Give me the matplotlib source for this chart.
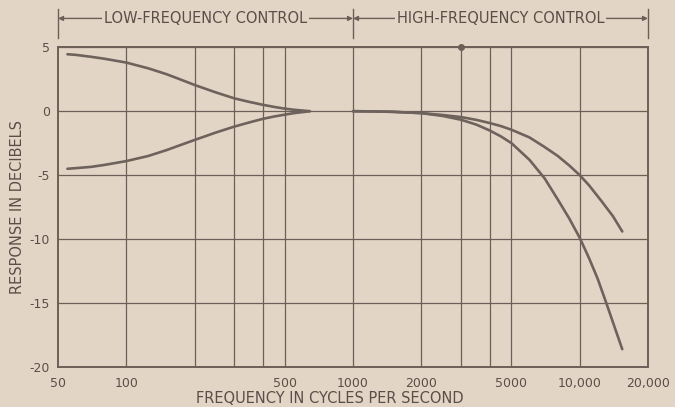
"""
Tone-control response curves (bass / treble boost and cut), redrawn from a
scanned magazine figure.
"""
import matplotlib
matplotlib.use("Agg")
import matplotlib.pyplot as plt

BG = "#e3d5c6"
INK = "#6b5f58"
CURVE = "#6e625c"
TEXT = "#5a4e48"

# ---- data ----------------------------------------------------------------
lf_freq = [55, 60, 70, 80, 100, 125, 150, 175, 200, 250, 300, 350, 400, 450,
           500, 550, 600, 645]
lf_boost = [4.45, 4.4, 4.25, 4.1, 3.8, 3.35, 2.9, 2.45, 2.05, 1.45, 1.0,
            0.72, 0.5, 0.33, 0.2, 0.11, 0.05, 0.0]
lf_cut = [-4.5, -4.45, -4.35, -4.2, -3.9, -3.5, -3.05, -2.62, -2.25, -1.65,
          -1.2, -0.87, -0.6, -0.41, -0.27, -0.15, -0.07, 0.0]

hf_freq = [1000, 1250, 1500, 2000, 2500, 3000, 3500, 4000, 4500, 5000, 6000,
           7000, 8000, 9000, 10000, 11000, 12500, 14000, 15400]
hf_upper = [0.0, -0.02, -0.05, -0.15, -0.3, -0.46, -0.68, -0.92, -1.17, -1.45,
            -2.05, -2.8, -3.5, -4.25, -5.0, -5.8, -7.05, -8.2, -9.4]
hf_lower_freq = [1000, 1250, 1500, 2000, 2500, 3000, 3500, 4000, 4500, 5000,
                 6000, 7000, 8000, 9000, 10000, 11000, 12000, 13100, 14200, 15400]
hf_lower = [0.0, -0.02, -0.05, -0.15, -0.38, -0.67, -1.05, -1.5, -1.98, -2.5,
            -3.8, -5.25, -6.9, -8.4, -9.9, -11.5, -13.1, -15.0, -16.8, -18.6]

grid_freqs = [100, 200, 300, 400, 500, 1000, 2000, 3000, 4000, 5000, 10000]
x_ticks = [50, 100, 500, 1000, 2000, 5000, 10000, 20000]
x_labels = ["50", "100", "500", "1000", "2000", "5000", "10,000", "20,000"]
y_ticks = [5, 0, -5, -10, -15, -20]
y_labels = ["5", "0", "-5", "-10", "-15", "-20"]

plt.rcParams["font.family"] = ["DejaVu Sans"]

fig = plt.figure(figsize=(6.75, 4.07), dpi=100, facecolor=BG)
ax = fig.add_axes([0.086, 0.098, 0.874, 0.786], facecolor=BG)

ax.set_xscale("log")
ax.set_xlim(50, 20000)
ax.set_ylim(-20, 5)

for f in grid_freqs:
    ax.axvline(f, color=INK, lw=0.9, zorder=1)
for y in y_ticks:
    ax.axhline(y, color=INK, lw=0.9, zorder=1)

for fx, fy in ((lf_freq, lf_boost), (lf_freq, lf_cut),
               (hf_freq, hf_upper), (hf_lower_freq, hf_lower)):
    ax.plot(fx, fy, color=CURVE, lw=1.9, solid_capstyle="round",
            solid_joinstyle="round", zorder=3)
ax.plot([3000], [5], "o", color=INK, ms=4, zorder=4, clip_on=False)

for s in ax.spines.values():
    s.set_color(INK)
    s.set_linewidth(1.4)

ax.xaxis.set_minor_locator(matplotlib.ticker.NullLocator())
ax.set_xticks(x_ticks)
ax.set_xticklabels(x_labels)
ax.set_yticks(y_ticks)
ax.set_yticklabels(y_labels)
ax.tick_params(length=0, labelsize=9, labelcolor=TEXT)
ax.tick_params(axis="x", pad=7)
ax.tick_params(axis="y", pad=6)

ax.set_ylabel("RESPONSE IN DECIBELS", fontsize=10.5, color=TEXT, labelpad=3)
fig.text(0.489, 0.022, "FREQUENCY IN CYCLES PER SECOND", fontsize=10.5,
         color=TEXT, ha="center", va="center")

# ---- control-range brackets on top ---------------------------------------
tr = ax.get_xaxis_transform()
for f in (50, 1000, 20000):
    ax.plot([f, f], [1.028, 1.118], color=INK, lw=1.0, transform=tr, clip_on=False)
for lo, hi, label in ((50, 1000, "LOW-FREQUENCY CONTROL"),
                      (1000, 20000, "HIGH-FREQUENCY CONTROL")):
    ax.annotate("", xy=(lo, 1.09), xytext=(hi, 1.09), xycoords=tr, textcoords=tr,
                arrowprops=dict(arrowstyle="<|-|>", color=INK, lw=1.0,
                                mutation_scale=7, shrinkA=0, shrinkB=0))
    mid = (lo * hi) ** 0.5
    ax.text(mid, 1.09, label, transform=tr, ha="center", va="center",
            fontsize=10.5, color=TEXT,
            bbox=dict(facecolor=BG, edgecolor="none", pad=1.5))

fig.savefig("out.png", dpi=100, facecolor=BG)
